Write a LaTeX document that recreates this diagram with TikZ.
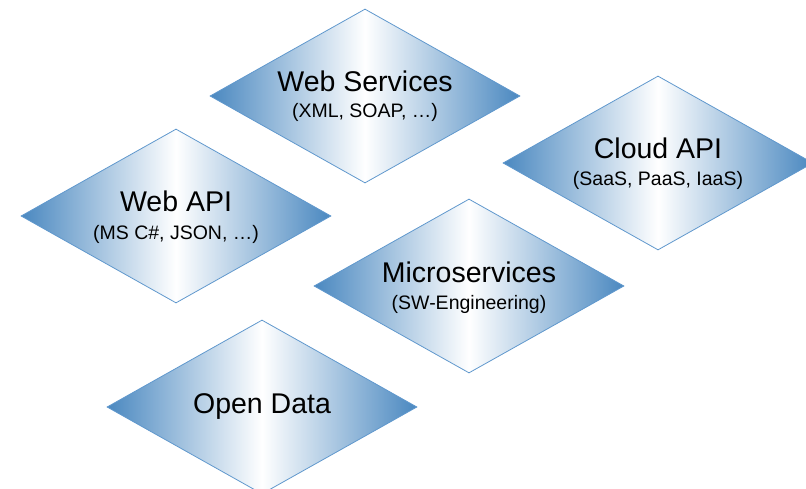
\documentclass[tikz,border=0pt]{standalone}
\usepackage{fontspec}
\setmainfont{Liberation Sans}
\usetikzlibrary{shapes.geometric}
\definecolor{edgeblue}{RGB}{74,136,192}
\definecolor{lineblue}{RGB}{96,152,205}
\tikzset{
  dia/.style={diamond, draw=lineblue, line width=0.8pt, inner sep=0pt,
    minimum width=310pt, minimum height=174pt,
    left color=edgeblue, right color=edgeblue, middle color=white},
  ttl/.style={anchor=base, font=\fontsize{28.5}{30}\selectfont, inner sep=0pt},
  sub/.style={anchor=base, font=\fontsize{19.5}{21}\selectfont, inner sep=0pt}
}
\begin{document}
\begin{tikzpicture}[x=1pt,y=-1pt]
\useasboundingbox (0,0) rectangle (806,489);
\node[dia] (ws) at (365,96) {};
\node[dia] (wa) at (176,216) {};
\node[dia] (ca) at (658,163) {};
\node[dia] (ms) at (469,286) {};
\node[dia] (od) at (262,407) {};
\node[ttl] (wst) at (365,92) {Web Services};
\node[sub] (wss) at (365,118) {(XML, SOAP, \dots)};
\node[ttl] (wat) at (176,212) {Web API};
\node[sub] (was) at (176,240) {(MS C\#, JSON, \dots)};
\node[ttl] (cat) at (658,159) {Cloud API};
\node[sub] (cas) at (658,186) {(SaaS, PaaS, IaaS)};
\node[ttl] (mst) at (469,282) {Microservices};
\node[sub] (mss) at (469,309) {(SW-Engineering)};
\node[ttl] (odt) at (262,413) {Open Data};
\end{tikzpicture}
\end{document}
